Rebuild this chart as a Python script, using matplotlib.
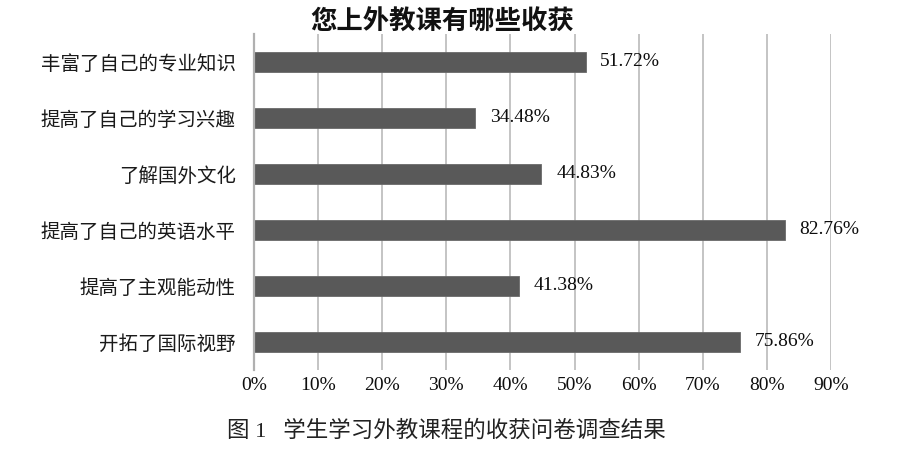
import matplotlib
matplotlib.use("Agg")
import matplotlib.pyplot as plt
from matplotlib.ticker import FixedLocator

plt.rcParams['font.family'] = ['Noto Sans CJK SC', 'DejaVu Sans']

# Survey answers, listed top to bottom
categories = [
    "丰富了自己的专业知识",
    "提高了自己的学习兴趣",
    "了解国外文化",
    "提高了自己的英语水平",
    "提高了主观能动性",
    "开拓了国际视野",
]
percentages = [51.72, 34.48, 44.83, 82.76, 41.38, 75.86]
x_ticks = [0, 10, 20, 30, 40, 50, 60, 70, 80, 90]
x_tick_labels = [f"{t}%" for t in x_ticks]

title = "您上外教课有哪些收获"
caption = "图 1   学生学习外教课程的收获问卷调查结果"

fig = plt.figure(figsize=(9, 4.5), dpi=100)
ax = fig.add_axes([0.2822, 0.1778, 0.6411, 0.7467])

ypos = list(range(len(categories)))[::-1]
ax.barh(ypos, percentages, height=0.37, color="#595959", edgecolor="#6a6a6a",
        linewidth=0.6, zorder=3)

for y, v in zip(ypos, percentages):
    ax.text(v + 2.3, y, f"{v:.2f}%", va="center", ha="left",
            fontsize=14, family="Liberation Serif", color="#0d0d0d", zorder=4)

ax.set_xlim(0, 90)
ax.set_ylim(-0.5, len(categories) - 0.5)
ax.xaxis.set_major_locator(FixedLocator(x_ticks))
ax.set_xticklabels(x_tick_labels, fontsize=14, family="Liberation Serif",
                   color="#0d0d0d")
ax.set_yticks(ypos)
ax.set_yticklabels(categories, fontsize=14, color="#1a1a1a")
ax.tick_params(axis="both", length=0)
ax.tick_params(axis="y", pad=13)
ax.tick_params(axis="x", pad=5)

ax.grid(axis="x", color="#c4c4c4", linewidth=1.4, zorder=0)
ax.grid(axis="y", visible=False)
for side in ("top", "right", "bottom"):
    ax.spines[side].set_visible(False)
ax.spines["left"].set_color("#b0b0b0")
ax.spines["left"].set_linewidth(1.6)
ax.spines["left"].set_zorder(5)

fig.text(0.491, 0.951, title, ha="center", va="center", fontsize=19,
         fontweight="bold", color="#111111")
fig.text(0.496, 0.042, caption, ha="center", va="center", fontsize=16.2,
         color="#222222", family=["Liberation Serif", "Noto Sans CJK SC"])

fig.savefig("out.png", dpi=100, facecolor="white")
